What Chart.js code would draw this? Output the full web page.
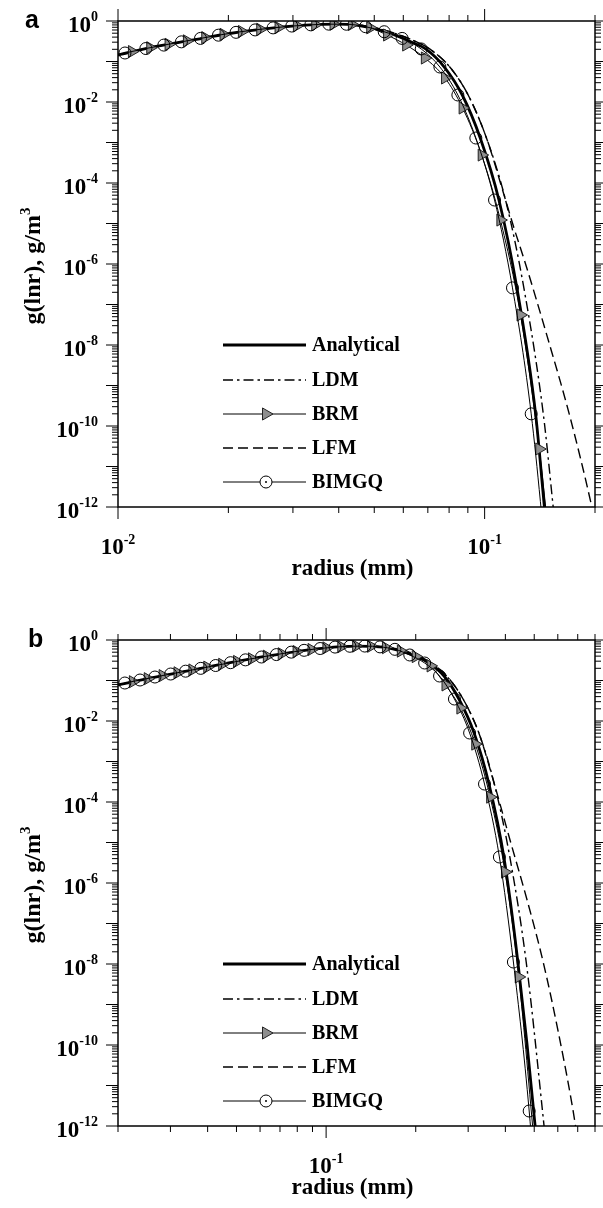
<!DOCTYPE html>
<html>
<head>
<meta charset="utf-8">
<script src="https://cdn.jsdelivr.net/npm/chart.js@4.4.1/dist/chart.umd.min.js"></script>
<style>
  html, body { margin: 0; padding: 0; background: #fff; }
  .panel { position: relative; width: 603px; height: 604px; }
  canvas { display: block; }
</style>
</head>
<body>
<div class="panel"><canvas id="chartA" width="603" height="604"></canvas></div>
<div class="panel"><canvas id="chartB" width="603" height="604"></canvas></div>
<script>
// values, as log10(radius mm) and log10(g)
// panel a
const aAnalyticalLgR = [-2.0, -1.9, -1.8, -1.7, -1.6, -1.5, -1.45, -1.4, -1.35, -1.3, -1.25, -1.2, -1.161, -1.11, -1.061, -1.012, -0.961, -0.912, -0.861, -0.837, -0.815];
const aAnalyticalLgG = [-0.84, -0.635, -0.475, -0.315, -0.195, -0.11, -0.085, -0.075, -0.10, -0.19, -0.33, -0.52, -0.69, -1.136, -1.827, -2.889, -4.42, -6.59, -9.70, -12.0, -14.0];
const aLdmLgR = [-2.0, -1.9, -1.8, -1.7, -1.6, -1.5, -1.45, -1.4, -1.35, -1.3, -1.25, -1.2, -1.15, -1.095, -1.045, -0.995, -0.943, -0.893, -0.84, -0.813, -0.79];
const aLdmLgG = [-0.84, -0.635, -0.475, -0.315, -0.195, -0.11, -0.085, -0.072, -0.09, -0.165, -0.29, -0.46, -0.69, -1.136, -1.827, -2.889, -4.42, -6.59, -9.70, -12.0, -14.0];
const aBrmLgR = [-1.962, -1.912, -1.862, -1.812, -1.762, -1.712, -1.662, -1.612, -1.562, -1.512, -1.462, -1.412, -1.362, -1.312, -1.266, -1.214, -1.163, -1.108, -1.06, -1.008, -0.957, -0.902, -0.851, -0.80];
const aBrmLgG = [-0.755, -0.66, -0.575, -0.49, -0.41, -0.33, -0.26, -0.205, -0.16, -0.117, -0.09, -0.076, -0.085, -0.17, -0.346, -0.593, -0.914, -1.407, -2.148, -3.309, -4.914, -7.259, -10.568, -15.0];
const aLfmLgR = [-2.0, -1.9, -1.8, -1.7, -1.6, -1.5, -1.45, -1.4, -1.35, -1.3, -1.25, -1.2, -1.15, -1.095, -1.045, -0.995, -0.943, -0.92, -0.889, -0.829, -0.767, -0.71, -0.68];
const aLfmLgG = [-0.84, -0.635, -0.475, -0.315, -0.195, -0.11, -0.085, -0.072, -0.09, -0.165, -0.29, -0.46, -0.69, -1.136, -1.827, -2.889, -4.42, -5.11, -5.98, -7.80, -9.78, -11.9, -13.2];
const aBimgqLgR = [-1.981, -1.924, -1.875, -1.827, -1.775, -1.726, -1.678, -1.626, -1.577, -1.526, -1.474, -1.425, -1.377, -1.325, -1.274, -1.225, -1.173, -1.122, -1.073, -1.024, -0.973, -0.924, -0.873, -0.823];
const aBimgqLgG = [-0.79, -0.68, -0.595, -0.515, -0.43, -0.35, -0.28, -0.22, -0.17, -0.125, -0.095, -0.078, -0.08, -0.14, -0.265, -0.43, -0.69, -1.136, -1.827, -2.889, -4.42, -6.59, -9.70, -14.2];

// panel b
const bAnalyticalLgR = [-1.699, -1.6, -1.5, -1.4, -1.3, -1.2, -1.1, -1.0, -0.95, -0.9, -0.85, -0.8, -0.75, -0.7, -0.654, -0.604, -0.554, -0.503, -0.453, -0.403, -0.356, -0.298, -0.28];
const bAnalyticalLgG = [-1.11, -0.955, -0.81, -0.67, -0.53, -0.40, -0.285, -0.195, -0.165, -0.15, -0.155, -0.185, -0.27, -0.40, -0.568, -0.889, -1.457, -2.296, -3.556, -5.358, -7.951, -12.0, -13.6];
const bLdmLgR = [-1.699, -1.6, -1.5, -1.4, -1.3, -1.2, -1.1, -1.0, -0.95, -0.9, -0.85, -0.8, -0.75, -0.7, -0.65, -0.595, -0.54, -0.487, -0.435, -0.383, -0.328, -0.268, -0.25];
const bLdmLgG = [-1.11, -0.955, -0.81, -0.67, -0.53, -0.40, -0.285, -0.195, -0.165, -0.15, -0.15, -0.17, -0.24, -0.36, -0.55, -0.889, -1.457, -2.296, -3.556, -5.358, -7.951, -12.0, -13.3];
const bBrmLgR = [-1.649, -1.599, -1.549, -1.499, -1.449, -1.399, -1.349, -1.299, -1.249, -1.199, -1.149, -1.099, -1.049, -0.999, -0.949, -0.899, -0.849, -0.799, -0.749, -0.699, -0.649, -0.599, -0.549, -0.499, -0.449, -0.399, -0.353, -0.299];
const bBrmLgG = [-1.03, -0.955, -0.88, -0.81, -0.74, -0.67, -0.60, -0.53, -0.465, -0.40, -0.34, -0.285, -0.235, -0.195, -0.165, -0.15, -0.155, -0.19, -0.275, -0.41, -0.64, -1.11, -1.68, -2.57, -3.88, -5.73, -8.32, -12.6];
const bLfmLgR = [-1.699, -1.6, -1.5, -1.4, -1.3, -1.2, -1.1, -1.0, -0.95, -0.9, -0.85, -0.8, -0.75, -0.7, -0.65, -0.595, -0.54, -0.487, -0.435, -0.38, -0.325, -0.271, -0.221, -0.171, -0.15];
const bLfmLgG = [-1.11, -0.955, -0.81, -0.67, -0.53, -0.40, -0.285, -0.195, -0.165, -0.15, -0.15, -0.17, -0.24, -0.36, -0.55, -0.889, -1.457, -2.296, -3.556, -5.0, -6.42, -7.95, -9.65, -11.6, -12.6];
const bBimgqLgR = [-1.676, -1.625, -1.575, -1.522, -1.472, -1.421, -1.371, -1.321, -1.271, -1.217, -1.167, -1.117, -1.074, -1.02, -0.97, -0.92, -0.87, -0.819, -0.769, -0.719, -0.669, -0.619, -0.569, -0.518, -0.468, -0.418, -0.371, -0.318, -0.268];
const bBimgqLgG = [-1.062, -0.988, -0.914, -0.84, -0.77, -0.70, -0.63, -0.56, -0.49, -0.42, -0.36, -0.30, -0.255, -0.21, -0.175, -0.155, -0.15, -0.17, -0.23, -0.37, -0.568, -0.889, -1.457, -2.296, -3.556, -5.358, -7.951, -11.63, -16.5];

// axes
const aXRange = [0.01, 0.2];
const bXRange = [0.02, 0.8];
const yRange = [1e-12, 1];
const aXTicks = [0.01, 0.02, 0.03, 0.04, 0.05, 0.06, 0.07, 0.08, 0.09, 0.1, 0.2];
const aXMajor = [0.01, 0.1];
const aXLabelExps = [-2, -1];
const bXTicks = [0.02, 0.03, 0.04, 0.05, 0.06, 0.07, 0.08, 0.09, 0.1, 0.2, 0.3, 0.4, 0.5, 0.6, 0.7, 0.8];
const bXMajor = [0.1];
const bXLabelExps = [-1];
const yDecades = [-12, -11, -10, -9, -8, -7, -6, -5, -4, -3, -2, -1, 0];
const yMinorSteps = [2, 3, 4, 5, 6, 7, 8, 9];
const yLabelExps = [0, -2, -4, -6, -8, -10, -12];
const legendNames = ["Analytical", "LDM", "BRM", "LFM", "BIMGQ"];

const SERIF = '"Liberation Serif", "Times New Roman", serif';
const SANS = '"Liberation Sans", Arial, sans-serif';

const lineStyles = {
    Analytical: { borderWidth: 2.8, borderDash: [] },
    LDM: { borderWidth: 1.4, borderDash: [10, 4, 2.5, 4] },
    BRM: { borderWidth: 1, borderDash: [] },
    LFM: { borderWidth: 1.4, borderDash: [10, 5] },
    BIMGQ: { borderWidth: 1, borderDash: [] }
};

function toPoints(lgR, lgG) {
    return lgR.map((v, i) => ({ x: Math.pow(10, v), y: Math.pow(10, lgG[i]) }));
}

function buildDatasets(p) {
    const base = { borderColor: "#000", fill: false, cubicInterpolationMode: "monotone", pointRadius: 0, pointHoverRadius: 0 };
    return [
        { ...base, ...lineStyles.BIMGQ, label: "BIMGQ", data: toPoints(p.bimgqR, p.bimgqG),
          pointStyle: "circle", pointRadius: 6, pointBackgroundColor: "rgba(0,0,0,0)", pointBorderColor: "#000", pointBorderWidth: 1 },
        { ...base, ...lineStyles.BRM, label: "BRM", data: toPoints(p.brmR, p.brmG),
          pointStyle: "triangle", pointRotation: 90, pointRadius: 7, pointBackgroundColor: "#8e8e8e", pointBorderColor: "#222", pointBorderWidth: 1 },
        { ...base, ...lineStyles.Analytical, label: "Analytical", data: toPoints(p.anaR, p.anaG) },
        { ...base, ...lineStyles.LDM, label: "LDM", data: toPoints(p.ldmR, p.ldmG) },
        { ...base, ...lineStyles.LFM, label: "LFM", data: toPoints(p.lfmR, p.lfmG) }
    ];
}

function powLabel(ctx, e, x, base, align) {
    ctx.font = "bold 23px " + SERIF;
    const w1 = ctx.measureText("10").width;
    ctx.font = "bold 14px " + SERIF;
    const w2 = ctx.measureText(String(e)).width;
    const left = align === "right" ? x - w1 - w2 : x - (w1 + w2) / 2;
    ctx.textAlign = "left";
    ctx.textBaseline = "alphabetic";
    ctx.font = "bold 23px " + SERIF;
    ctx.fillText("10", left, base);
    ctx.font = "bold 14px " + SERIF;
    ctx.fillText(String(e), left + w1, base - 10.5);
}

// frame, ticks, tick labels and titles
const framePlugin = {
    id: "frame",
    afterDatasetsDraw(chart, args, o) {
        const ctx = chart.ctx, a = chart.chartArea, x = chart.scales.x, y = chart.scales.y;
        const seg = (x1, y1, x2, y2) => { ctx.beginPath(); ctx.moveTo(x1, y1); ctx.lineTo(x2, y2); ctx.stroke(); };
        ctx.save();
        ctx.strokeStyle = "#000";
        ctx.fillStyle = "#000";
        ctx.lineWidth = 1;
        o.xTicks.forEach(v => {
            const px = x.getPixelForValue(v);
            const len = o.xMajor.includes(v) ? 12 : 6;
            seg(px, a.bottom, px, a.bottom + len);
            seg(px, a.top, px, a.top - len);
        });
        yDecades.forEach(d => {
            const py = y.getPixelForValue(Math.pow(10, d));
            seg(a.left - 12, py, a.left, py);
            seg(a.right, py, a.right + 12, py);
            if (d === 0) return;
            yMinorSteps.forEach(m => {
                const pm = y.getPixelForValue(m * Math.pow(10, d));
                seg(a.left - 6, pm, a.left, pm);
                seg(a.right, pm, a.right + 6, pm);
            });
        });
        ctx.lineWidth = 1.5;
        ctx.strokeRect(a.left, a.top, a.right - a.left, a.bottom - a.top);

        yLabelExps.forEach(e => powLabel(ctx, e, 98, y.getPixelForValue(Math.pow(10, e)) + 10.5, "right"));
        o.xLabelExps.forEach(e => powLabel(ctx, e, x.getPixelForValue(Math.pow(10, e)), a.bottom + 47, "center"));

        ctx.font = "bold 23px " + SERIF;
        ctx.textAlign = "center";
        ctx.fillText("radius (mm)", (a.left + a.right) / 2 - 4, a.bottom + 68);

        // rotated y title with superscript
        ctx.save();
        ctx.translate(40, (a.top + a.bottom) / 2 + 2);
        ctx.rotate(-Math.PI / 2);
        ctx.textAlign = "left";
        const t1 = "g(lnr), g/m";
        ctx.font = "bold 24px " + SERIF;
        const w1 = ctx.measureText(t1).width;
        ctx.font = "bold 15px " + SERIF;
        const w2 = ctx.measureText("3").width;
        const start = -(w1 + w2) / 2;
        ctx.font = "bold 24px " + SERIF;
        ctx.fillText(t1, start, 0);
        ctx.font = "bold 15px " + SERIF;
        ctx.fillText("3", start + w1, -10.5);
        ctx.restore();

        ctx.font = "bold 25px " + SANS;
        ctx.textAlign = "left";
        ctx.fillText(o.letter, o.letterX, a.top + 7);
        ctx.restore();
    }
};

// legend box drawn inside the plot
const legendPlugin = {
    id: "innerLegend",
    afterDatasetsDraw(chart) {
        const ctx = chart.ctx, a = chart.chartArea;
        const rows = [324, 359, 393, 427, 461];
        ctx.save();
        legendNames.forEach((name, i) => {
            const yy = a.top + rows[i];
            const st = lineStyles[name];
            ctx.strokeStyle = "#000";
            ctx.lineWidth = st.borderWidth;
            ctx.setLineDash(st.borderDash);
            ctx.beginPath();
            ctx.moveTo(223, yy);
            ctx.lineTo(306, yy);
            ctx.stroke();
            ctx.setLineDash([]);
            if (name === "BRM") {
                const r = 7;
                ctx.beginPath();
                ctx.moveTo(266 + r, yy);
                ctx.lineTo(266 - r / 2, yy - r * 0.866);
                ctx.lineTo(266 - r / 2, yy + r * 0.866);
                ctx.closePath();
                ctx.fillStyle = "#8e8e8e";
                ctx.fill();
                ctx.strokeStyle = "#222";
                ctx.lineWidth = 1;
                ctx.stroke();
            }
            if (name === "BIMGQ") {
                ctx.beginPath();
                ctx.arc(266, yy, 6, 0, Math.PI * 2);
                ctx.fillStyle = "#fff";
                ctx.fill();
                ctx.lineWidth = 1;
                ctx.strokeStyle = "#000";
                ctx.stroke();
                ctx.beginPath();
                ctx.arc(266, yy, 1, 0, Math.PI * 2);
                ctx.fillStyle = "#000";
                ctx.fill();
            }
            ctx.fillStyle = "#000";
            ctx.font = "bold 20px " + SERIF;
            ctx.textAlign = "left";
            ctx.textBaseline = "middle";
            ctx.fillText(name, 312, yy + 1);
        });
        ctx.restore();
    }
};

function makeChart(id, p) {
    const ctx = document.getElementById(id).getContext("2d");
    return new Chart(ctx, {
        type: "line",
        data: { datasets: buildDatasets(p) },
        options: {
            responsive: false,
            animation: false,
            events: [],
            layout: { padding: p.padding },
            scales: {
                x: { type: "logarithmic", min: p.xRange[0], max: p.xRange[1], display: false },
                y: { type: "logarithmic", min: yRange[0], max: yRange[1], display: false }
            },
            plugins: {
                legend: { display: false },
                tooltip: { enabled: false },
                frame: { xTicks: p.xTicks, xMajor: p.xMajor, xLabelExps: p.xLabelExps, letter: p.letter, letterX: p.letterX }
            }
        },
        plugins: [framePlugin, legendPlugin]
    });
}

makeChart("chartA", {
    anaR: aAnalyticalLgR, anaG: aAnalyticalLgG, ldmR: aLdmLgR, ldmG: aLdmLgG,
    brmR: aBrmLgR, brmG: aBrmLgG, lfmR: aLfmLgR, lfmG: aLfmLgG, bimgqR: aBimgqLgR, bimgqG: aBimgqLgG,
    xRange: aXRange, xTicks: aXTicks, xMajor: aXMajor, xLabelExps: aXLabelExps,
    letter: "a", letterX: 25,
    padding: { left: 118, right: 5, top: 21, bottom: 97 }
});

makeChart("chartB", {
    anaR: bAnalyticalLgR, anaG: bAnalyticalLgG, ldmR: bLdmLgR, ldmG: bLdmLgG,
    brmR: bBrmLgR, brmG: bBrmLgG, lfmR: bLfmLgR, lfmG: bLfmLgG, bimgqR: bBimgqLgR, bimgqG: bBimgqLgG,
    xRange: bXRange, xTicks: bXTicks, xMajor: bXMajor, xLabelExps: bXLabelExps,
    letter: "b", letterX: 28,
    padding: { left: 118, right: 5, top: 36, bottom: 82 }
});
</script>
</body>
</html>
